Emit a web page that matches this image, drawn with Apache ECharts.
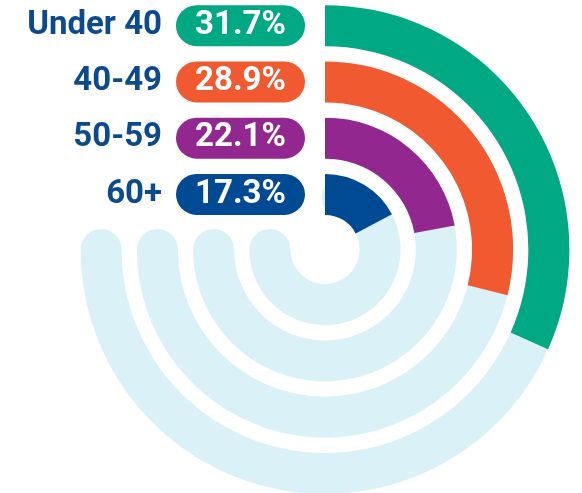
<!DOCTYPE html>
<html>
<head>
<meta charset="utf-8">
<script src="https://cdn.jsdelivr.net/npm/echarts@6/dist/echarts.min.js"></script>
<style>
  html, body { margin: 0; padding: 0; background: #fff; }
  #chart { width: 582px; height: 493px; }
</style>
</head>
<body>
<div id="chart"></div>
<script>
// Age groups, innermost ring first
const categories = ['60+', '50-59', '40-49', 'Under 40'];
// Share of each group, percent of a full circle
const shares = [17.3, 22.1, 28.9, 31.7];
const colors = ['#004A93', '#92278F', '#F15A30', '#00A884'];
// Background track: runs three quarters of the way round
const trackStart = [5, 5, 5, 5];
const trackLength = [70, 70, 70, 70];

const rich = {
  name: {
    fontFamily: 'Roboto', fontWeight: 'bold', fontSize: 33,
    color: '#0C4A8E', padding: [0, 14, 0, 0]
  }
};
colors.forEach((c, i) => {
  rich['p' + i] = {
    fontFamily: 'Roboto', fontWeight: 'bold', fontSize: 33,
    color: '#fff', backgroundColor: c, borderRadius: 21,
    width: 129, height: 41, lineHeight: 41, align: 'center'
  };
});

const polarBox = { center: [325, 249.5], radius: [27, 252] };
const angleBase = {
  type: 'value', min: 0, max: 100, startAngle: 90, clockwise: true, show: false
};
const radiusBase = {
  type: 'category', data: categories,
  axisLine: { show: false }, axisTick: { show: false }, splitLine: { show: false }
};

const chart = echarts.init(document.getElementById('chart'));
chart.setOption({
  animation: false,
  // two identical polar systems: one for the tracks, one for the values
  polar: [polarBox, polarBox],
  angleAxis: [
    Object.assign({ polarIndex: 0 }, angleBase),
    Object.assign({ polarIndex: 1 }, angleBase)
  ],
  radiusAxis: [
    Object.assign({ polarIndex: 0, axisLabel: { show: false } }, radiusBase),
    Object.assign({
      polarIndex: 1, z: 10,
      axisLabel: {
        interval: 0, margin: 20, hideOverlap: false,
        formatter: (v) => {
          const i = categories.indexOf(v);
          return '{name|' + v + '}{p' + i + '|' + shares[i].toFixed(1) + '%}';
        },
        rich
      }
    }, radiusBase)
  ],
  series: [
    {
      type: 'bar', coordinateSystem: 'polar', polarIndex: 0, stack: 'track',
      data: trackStart, barWidth: 41,
      itemStyle: { color: 'transparent' }, silent: true
    },
    {
      type: 'bar', coordinateSystem: 'polar', polarIndex: 0, stack: 'track',
      data: trackLength, barWidth: 41, roundCap: true,
      itemStyle: { color: '#DAF1F7' }, silent: true
    },
    {
      type: 'bar', coordinateSystem: 'polar', polarIndex: 1,
      data: shares.map((v, i) => ({ value: v, itemStyle: { color: colors[i] } })),
      barWidth: 41, z: 3
    }
  ]
});
</script>
</body>
</html>
